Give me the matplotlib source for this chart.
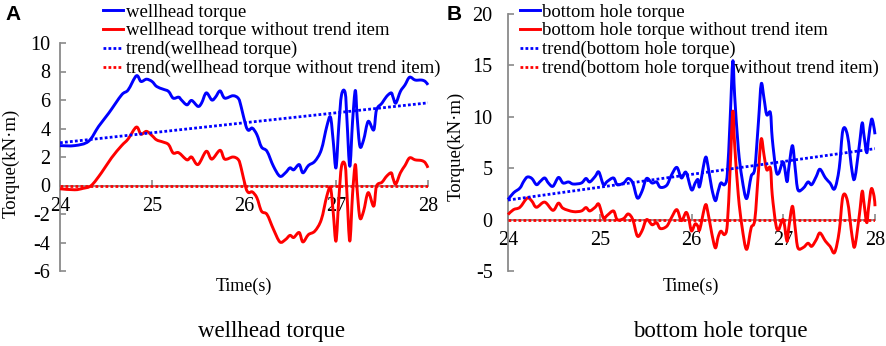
import matplotlib
matplotlib.use('Agg')
import matplotlib.pyplot as plt
from matplotlib.path import Path
from matplotlib.patches import PathPatch

plt.rcParams['font.family'] = ['Liberation Serif', 'DejaVu Serif']
plt.rcParams['axes.unicode_minus'] = False

# ---------------- data ----------------
# Panel A: wellhead torque
a_blue_t = [24.00, 24.16, 24.31, 24.42, 24.53, 24.67, 24.74, 24.83, 24.88, 24.94, 25.00, 25.05,
            25.12, 25.18, 25.23, 25.29, 25.32, 25.38, 25.43, 25.50, 25.54, 25.59, 25.65, 25.69,
            25.74, 25.79, 25.88, 25.94, 25.97, 26.02, 26.05, 26.09, 26.14, 26.19, 26.25, 26.32,
            26.39, 26.45, 26.50, 26.54, 26.60, 26.64, 26.70, 26.77, 26.84, 26.90, 26.94, 26.97,
            27.00, 27.03, 27.06, 27.10, 27.12, 27.15, 27.18, 27.21, 27.23, 27.26, 27.30, 27.35,
            27.41, 27.44, 27.50, 27.55, 27.60, 27.62, 27.65, 27.70, 27.75, 27.80, 27.86, 27.93,
            27.97, 28.00]
a_blue_v = [2.8, 2.8, 3.1, 4.15, 5.08, 6.36, 6.7, 7.7, 7.3, 7.46, 7.3, 6.95,
            6.76, 6.6, 6.13, 6.2, 6.0, 5.66, 5.97, 5.55, 5.8, 6.5, 6.0, 6.2,
            6.64, 6.13, 6.3, 6.1, 5.5, 4.2, 3.87, 4.03, 3.57, 2.7, 2.4, 1.35,
            0.65, 0.89, 1.24, 1.1, 1.47, 0.89, 1.4, 1.7, 2.5, 4.15, 4.8, 3.1,
            1.24, 4.15, 6.36, 6.5, 4.5, 1.35, 4.5, 6.67, 4.8, 2.75, 3.2, 4.5,
            3.9, 5.3, 5.78, 6.25, 6.5, 6.2, 5.78, 6.6, 7.06, 7.6, 7.4, 7.4,
            7.3, 7.06]
a_red_t = [24.00, 24.16, 24.25, 24.34, 24.45, 24.56, 24.67, 24.74, 24.83, 24.88, 24.94, 25.00,
           25.05, 25.12, 25.18, 25.23, 25.29, 25.38, 25.43, 25.50, 25.59, 25.65, 25.74, 25.79,
           25.88, 25.94, 25.97, 26.02, 26.05, 26.09, 26.14, 26.19, 26.25, 26.32, 26.39, 26.45,
           26.50, 26.54, 26.60, 26.64, 26.70, 26.77, 26.84, 26.90, 26.94, 26.97, 27.00, 27.03,
           27.06, 27.10, 27.12, 27.15, 27.18, 27.21, 27.23, 27.26, 27.30, 27.35, 27.41, 27.44,
           27.50, 27.55, 27.60, 27.62, 27.65, 27.70, 27.75, 27.80, 27.86, 27.93, 27.97, 28.00]
a_red_v = [-0.23, -0.3, -0.2, 0.0, 0.89, 1.94, 2.8, 3.26, 4.1, 3.6, 3.8, 3.5,
           3.2, 3.05, 2.87, 2.28, 2.3, 1.8, 2.0, 1.47, 2.4, 1.85, 2.47, 1.85,
           2.0, 1.8, 1.2, -0.16, -0.5, -0.45, -0.86, -1.8, -2.03, -3.07, -3.96, -3.8,
           -3.5, -3.65, -3.3, -3.96, -3.45, -3.2, -2.4, -0.75, -0.16, -1.9, -3.9, -1.0,
           1.35, 1.4, -0.7, -3.9, -0.6, 1.47, -0.3, -2.27, -1.8, -0.5, -1.45, -0.05,
           0.23, 0.65, 0.89, 0.5, 0.1, 0.89, 1.4, 1.94, 1.8, 1.75, 1.6, 1.24]
a_trend_t = [24.0, 28.0]
a_blue_trend = [3.0, 5.8]
a_red_trend = [0.0, 0.0]

# Panel B: bottom hole torque
b_blue_t = [24.00, 24.06, 24.13, 24.17, 24.21, 24.26, 24.31, 24.35, 24.40, 24.44, 24.49, 24.55,
            24.60, 24.66, 24.71, 24.80, 24.85, 24.89, 24.95, 24.99, 25.04, 25.08, 25.15, 25.19,
            25.26, 25.31, 25.36, 25.41, 25.46, 25.51, 25.57, 25.62, 25.66, 25.73, 25.78, 25.84,
            25.89, 25.94, 26.00, 26.04, 26.07, 26.09, 26.15, 26.18, 26.22, 26.26, 26.29, 26.32,
            26.36, 26.39, 26.42, 26.45, 26.47, 26.51, 26.55, 26.60, 26.65, 26.69, 26.73, 26.76,
            26.79, 26.82, 26.86, 26.88, 26.92, 26.95, 27.00, 27.04, 27.06, 27.10, 27.13, 27.16,
            27.22, 27.27, 27.31, 27.36, 27.40, 27.46, 27.51, 27.56, 27.61, 27.65, 27.70, 27.75,
            27.78, 27.83, 27.86, 27.88, 27.91, 27.93, 27.96, 27.98, 28.00]
b_blue_v = [1.94, 2.6, 3.07, 3.7, 4.14, 4.0, 3.4, 3.7, 4.05, 3.56, 3.24, 4.1,
            3.56, 3.66, 3.46, 3.56, 4.0, 3.66, 4.2, 4.63, 3.4, 3.7, 4.05, 3.4,
            3.56, 4.0, 3.56, 2.1, 2.75, 4.0, 3.56, 3.66, 3.14, 3.34, 4.3, 5.08,
            4.05, 4.6, 2.9, 3.56, 3.9, 3.24, 6.0, 5.2, 3.07, 1.84, 2.75, 3.56,
            3.4, 4.4, 9.55, 15.4, 12.1, 6.96, 4.05, 2.04, 4.2, 5.0, 9.55, 13.2,
            11.8, 10.2, 10.4, 7.9, 4.85, 4.5, 5.6, 3.7, 5.0, 7.2, 5.0, 2.9,
            3.07, 3.66, 3.4, 4.2, 4.9, 4.05, 3.56, 3.0, 5.0, 8.7, 8.2, 4.7,
            4.05, 7.3, 9.4, 8.2, 6.5, 7.9, 9.7, 9.4, 8.3]
b_red_t = [24.00, 24.06, 24.13, 24.21, 24.26, 24.31, 24.40, 24.49, 24.55, 24.60, 24.71, 24.80,
           24.85, 24.89, 24.95, 24.99, 25.04, 25.08, 25.15, 25.19, 25.26, 25.31, 25.36, 25.41,
           25.46, 25.51, 25.57, 25.62, 25.66, 25.73, 25.78, 25.84, 25.89, 25.94, 25.97, 26.00,
           26.04, 26.07, 26.09, 26.15, 26.18, 26.22, 26.26, 26.29, 26.32, 26.36, 26.39, 26.42,
           26.45, 26.47, 26.51, 26.55, 26.60, 26.65, 26.69, 26.73, 26.76, 26.79, 26.82, 26.86,
           26.88, 26.92, 26.95, 27.00, 27.04, 27.06, 27.10, 27.13, 27.16, 27.22, 27.27, 27.31,
           27.36, 27.40, 27.46, 27.51, 27.56, 27.61, 27.65, 27.70, 27.75, 27.78, 27.83, 27.86,
           27.88, 27.91, 27.93, 27.96, 27.99, 28.00]
b_red_v = [0.49, 0.97, 1.2, 2.1, 1.8, 1.2, 1.7, 0.9, 1.6, 1.1, 0.78, 0.84,
           1.17, 0.84, 1.2, 1.5, 0.16, 0.4, 0.84, 0.0, 0.1, 0.55, 0.0, -1.6,
           -1.1, 0.0, -0.5, -0.3, -0.87, -0.65, 0.16, 0.97, -0.1, 0.7, 0.1, -1.1,
           -0.42, -0.65, -0.97, 1.4, 0.65, -1.3, -2.75, -1.7, -1.13, -1.45, -0.49, 4.7,
           10.5, 7.3, 2.4, -0.65, -2.9, -0.8, 0.0, 4.7, 7.85, 6.3, 4.85, 5.0,
           2.4, -0.5, -0.97, 0.0, -2.1, -0.8, 1.3, -0.8, -2.75, -2.7, -2.3, -2.6,
           -1.95, -1.3, -2.1, -2.6, -3.2, -1.13, 2.26, 1.8, -1.6, -2.6, 0.49, 2.75,
           1.6, -0.3, 1.17, 3.0, 2.26, 1.3]
b_trend_t = [24.0, 28.0]
b_blue_trend = [1.9, 6.9]
b_red_trend = [0.0, 0.0]

xticks = [24, 25, 26, 27, 28]
a_yticks = [-6, -4, -2, 0, 2, 4, 6, 8, 10]
b_yticks = [-5, 0, 5, 10, 15, 20]

a_labels = ['wellhead torque', 'wellhead torque without trend item',
            'trend(wellhead torque)', 'trend(wellhead torque without trend item)']
b_labels = ['bottom hole torque', 'bottom hole torque without trend item',
            'trend(bottom hole torque)', 'trend(bottom hole torque without trend item)']

# ---------------- figure ----------------
W, H = 886, 346
fig = plt.figure(figsize=(W / 100, H / 100), dpi=100)

axA = fig.add_axes([60 / W, 1 - 271 / H, (428 - 60) / W, (271 - 43) / H])
axB = fig.add_axes([508 / W, 1 - 271 / H, (875 - 508) / W, (271 - 14) / H])

GRAY = '#8a8a8a'
BLUE = '#0000ff'
RED = '#ff0000'
DOT = (0, (1, 0.8))


def style(ax, ylim, yticks, ypad):
    ax.set_xlim(24, 28)
    ax.set_ylim(*ylim)
    ax.patch.set_alpha(0)
    ax.spines['top'].set_visible(False)
    ax.spines['right'].set_visible(False)
    ax.spines['bottom'].set_position(('data', 0))
    for s in ('left', 'bottom'):
        ax.spines[s].set_color(GRAY)
        ax.spines[s].set_linewidth(1.3)
    ax.set_xticks(xticks)
    ax.set_yticks(yticks)
    ax.tick_params(direction='in', length=4, width=1.2, color=GRAY)
    ax.tick_params(axis='x', pad=8, labelsize=14.5)
    ax.tick_params(axis='y', pad=ypad, labelsize=14.5)


def smooth_line(ax, x, y, color):
    """Draw a smoothed (Excel-like) curve through the data points in data space."""
    n = len(x)
    verts = [(x[0], y[0])]
    codes = [Path.MOVETO]
    for i in range(n - 1):
        x0, y0 = (x[i - 1], y[i - 1]) if i > 0 else (x[i], y[i])
        x1, y1 = x[i], y[i]
        x2, y2 = x[i + 1], y[i + 1]
        x3, y3 = (x[i + 2], y[i + 2]) if i + 2 < n else (x2, y2)
        c1 = (x1 + (x2 - x0) / 6.0, y1 + (y2 - y0) / 6.0)
        c2 = (x2 - (x3 - x1) / 6.0, y2 - (y3 - y1) / 6.0)
        verts += [c1, c2, (x2, y2)]
        codes += [Path.CURVE4] * 3
    patch = PathPatch(Path(verts, codes), fill=False, edgecolor=color, lw=2.1,
                      joinstyle='round', capstyle='butt', transform=ax.transData,
                      clip_on=False, zorder=3)
    ax.add_patch(patch)
    line, = ax.plot([], [], color=color, lw=2.1)
    return line


def draw(ax, bt, bv, rt, rv, tt, btr, rtr, labels, anchor_x):
    l1 = smooth_line(ax, bt, bv, BLUE)
    l2 = smooth_line(ax, rt, rv, RED)
    l3, = ax.plot(tt, btr, color=BLUE, lw=2.0, linestyle=DOT, zorder=4)
    l4, = ax.plot(tt, rtr, color=RED, lw=2.0, linestyle=DOT, zorder=4)
    ax.legend([l1, l2, l3, l4], labels, loc='upper left',
              bbox_to_anchor=(anchor_x / W, 1 - 3.5 / H), bbox_transform=fig.transFigure,
              frameon=False, fontsize=13.5, handlelength=1.05, handletextpad=0.15,
              labelspacing=0.09, borderpad=0, borderaxespad=0)


style(axA, (-6, 10), a_yticks, 7)
style(axB, (-5, 20), b_yticks, 11)
draw(axA, a_blue_t, a_blue_v, a_red_t, a_red_v, a_trend_t, a_blue_trend, a_red_trend, a_labels, 103)
draw(axB, b_blue_t, b_blue_v, b_red_t, b_red_v, b_trend_t, b_blue_trend, b_red_trend, b_labels, 520)

# texts
fig.text(13 / W, 1 - 15 / H, 'A', family='Liberation Sans', fontweight='bold', fontsize=15,
         ha='center', va='center')
fig.text(454 / W, 1 - 15 / H, 'B', family='Liberation Sans', fontweight='bold', fontsize=15,
         ha='center', va='center')
fig.text(11 / W, 1 - 163 / H, 'Torque(kN·m)', rotation=90, fontsize=13.5, ha='center', va='center')
fig.text(456 / W, 1 - 146 / H, 'Torque(kN·m)', rotation=90, fontsize=13.5, ha='center', va='center')
fig.text(244 / W, 1 - 286 / H, 'Time(s)', fontsize=13, ha='center', va='center')
fig.text(691 / W, 1 - 286 / H, 'Time(s)', fontsize=13, ha='center', va='center')
fig.text(271 / W, 1 - 331 / H, 'wellhead torque', fontsize=16.5, ha='center', va='center')
fig.text(720 / W, 1 - 331 / H, 'bottom hole torque', fontsize=16.5, ha='center', va='center')

fig.savefig('out.png', dpi=100)
